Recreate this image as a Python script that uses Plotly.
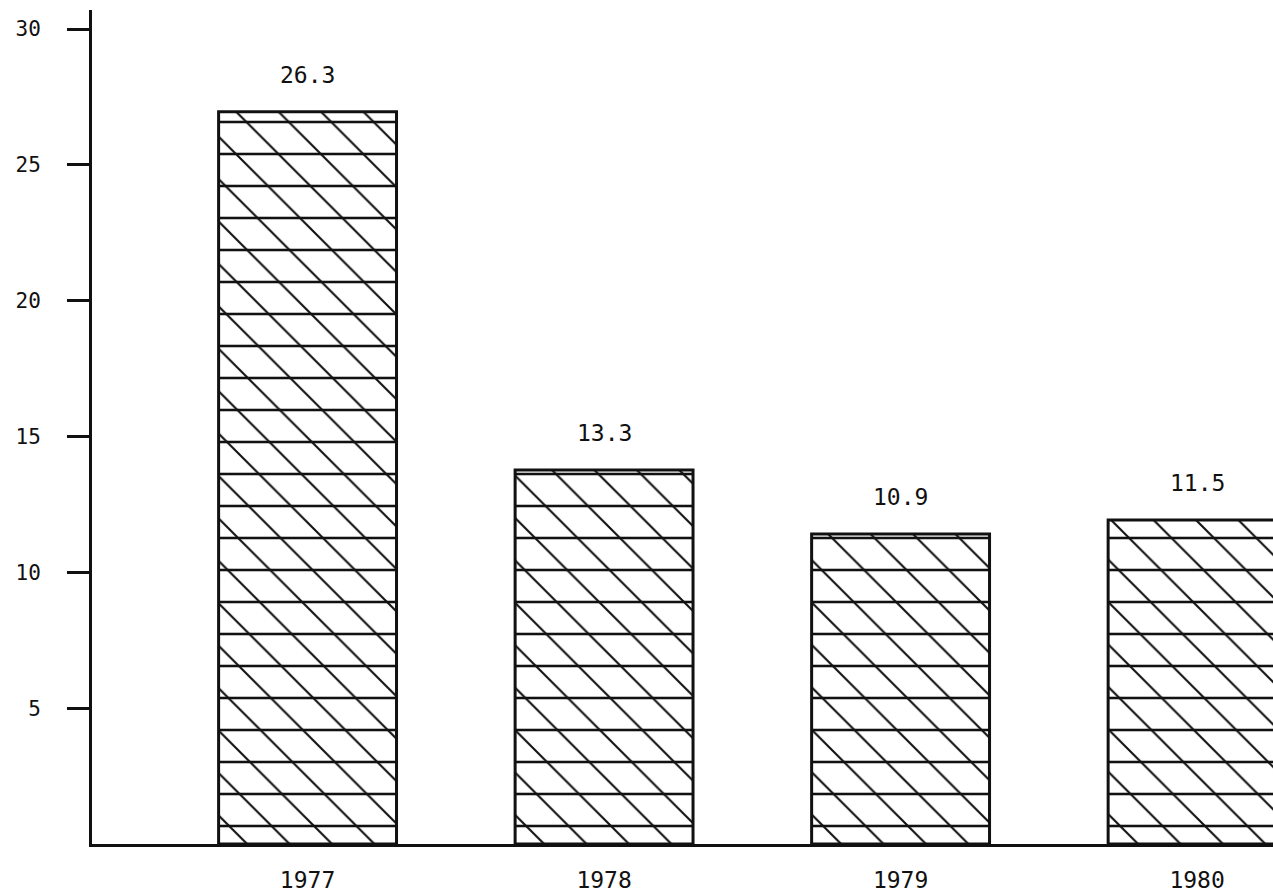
import plotly.graph_objects as go

# Data
years = ["1977", "1978", "1979", "1980"]
value_labels = ["26.3", "13.3", "10.9", "11.5"]      # printed values above bars
bar_heights = [26.95, 13.77, 11.41, 11.93]           # heights as drawn on the axis
y_ticks = [5, 10, 15, 20, 25, 30]

x_pos = list(range(len(years)))
ink = "#111111"
font_family = "DejaVu Sans Mono"

fig = go.Figure()

# diagonal hatching layer
fig.add_trace(go.Bar(
    x=x_pos, y=bar_heights, width=0.6,
    marker=dict(
        color="white",
        line=dict(width=0),
        pattern=dict(shape="\\", size=30, solidity=0.07,
                     fgcolor=ink, bgcolor="white", fillmode="replace"),
    ),
    hoverinfo="skip", showlegend=False,
))
# horizontal hatching layer + outline
fig.add_trace(go.Bar(
    x=x_pos, y=bar_heights, width=0.6,
    marker=dict(
        color="rgba(0,0,0,0)",
        line=dict(width=3, color=ink),
        pattern=dict(shape="-", size=32, solidity=0.08,
                     fgcolor=ink, bgcolor="rgba(0,0,0,0)", fillmode="replace"),
    ),
    hoverinfo="skip", showlegend=False,
))

for xp, h, lab in zip(x_pos, bar_heights, value_labels):
    fig.add_annotation(x=xp, y=h, text=lab, showarrow=False,
                       yanchor="bottom", yshift=22,
                       font=dict(family=font_family, size=23, color=ink))

fig.update_layout(
    width=1273, height=895,
    margin=dict(l=92, r=0, t=10, b=51),
    paper_bgcolor="white", plot_bgcolor="white",
    barmode="overlay",
    font=dict(family=font_family, color=ink),
    xaxis=dict(
        range=[-0.727, 3.256],
        tickvals=x_pos, ticktext=years,
        showgrid=False, zeroline=False,
        showline=True, linewidth=3, linecolor=ink,
        ticks="", ticklabelstandoff=13,
        tickfont=dict(family=font_family, size=23, color=ink),
    ),
    yaxis=dict(
        range=[0, 30.7],
        tickvals=y_ticks, ticktext=[str(v) for v in y_ticks],
        showgrid=False, zeroline=False,
        showline=True, linewidth=3, linecolor=ink,
        ticks="outside", ticklen=22, tickwidth=3, tickcolor=ink,
        ticklabelstandoff=22,
        tickfont=dict(family=font_family, size=21, color=ink),
    ),
)

fig.write_html(
    "out.html",
    config={"displayModeBar": False},
    post_script="document.body.style.margin='0';document.body.style.overflow='hidden';",
)
